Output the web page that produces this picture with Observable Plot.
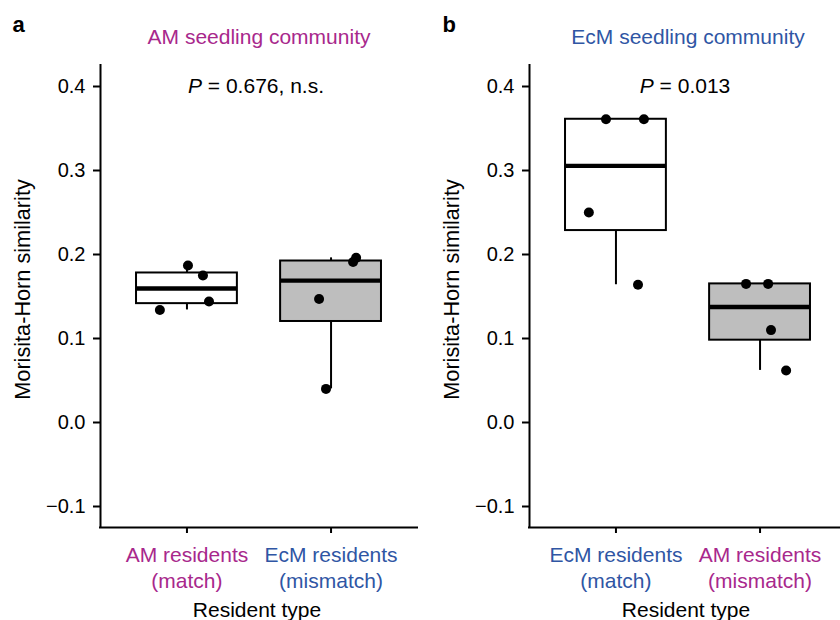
<!DOCTYPE html>
<html><head><meta charset="utf-8">
<script src="https://cdn.jsdelivr.net/npm/d3@7"></script>
<script src="https://cdn.jsdelivr.net/npm/@observablehq/plot@0.6"></script>
<style>
html,body{margin:0;padding:0;background:#fff;overflow:hidden;}
#wrap{position:relative;width:840px;height:620px;overflow:hidden;background:#fff;}
#pa{position:absolute;left:0;top:0;width:420px;}
#pb{position:absolute;left:420px;top:0;width:429px;}
#wrap svg{max-width:none !important;}
</style></head><body>
<div id="wrap"><div id="pa"></div><div id="pb"></div></div>
<script>
const FONT = "'Liberation Sans', Arial, Helvetica, sans-serif";
const AM_COLOR = "#a8288c";
const ECM_COLOR = "#2f56a4";
const BOX_FILLS = ["white", "#bebebe"];

const panelLetters = ["a", "b"];
const panelTitles = ["AM seedling community", "EcM seedling community"];
const pValueLabels = ["= 0.676, n.s.", "= 0.013"];
const categoriesA = ["AM residents\n(match)", "EcM residents\n(mismatch)"];
const categoriesB = ["EcM residents\n(match)", "AM residents\n(mismatch)"];
const xTitle = "Resident type";
const yTitle = "Morisita-Horn similarity";
const yTicks = [-0.1, 0.0, 0.1, 0.2, 0.3, 0.4];

// Panel a values
const amMatch    = [0.187, 0.175, 0.144, 0.134];
const amMismatch = [0.196, 0.191, 0.147, 0.040];
// Panel b values
const ecmMatch    = [0.361, 0.361, 0.250, 0.164];
const ecmMismatch = [0.165, 0.165, 0.110, 0.062];

// horizontal jitter of points (category units)
const jitterAmMatch     = [0.007, 0.111, 0.153, -0.188];
const jitterAmMismatch  = [0.174, 0.153, -0.083, -0.035];
const jitterEcmMatch    = [-0.069, 0.194, -0.188, 0.153];
const jitterEcmMismatch = [-0.097, 0.056, 0.076, 0.181];

function boxStats(vals, pos, fill) {
  const s = vals.slice().sort(d3.ascending);
  const q1 = d3.quantile(s, 0.25), med = d3.quantile(s, 0.5), q3 = d3.quantile(s, 0.75);
  const iqr = q3 - q1;
  const lo = d3.min(s.filter(v => v >= q1 - 1.5 * iqr));
  const hi = d3.max(s.filter(v => v <= q3 + 1.5 * iqr));
  return {pos, q1, med, q3, lo, hi, fill};
}

function panel({letter, title, titleColor, pLabel, cats, catColors, groups, jitters, marginLeft, width, letterShift}) {
  const stats = groups.map((g, i) => boxStats(g, i + 1, BOX_FILLS[i]));
  const points = groups.flatMap((g, i) => g.map((v, j) => ({pos: i + 1 + jitters[i][j], value: v})));
  const catData = cats.map((c, i) => ({pos: i + 1, label: c, color: catColors[i]}));
  const hw = 0.35;
  const plot = Plot.plot({
    width, height: 620,
    marginLeft, marginRight: 3, marginTop: 65, marginBottom: 93,
    x: {type: "linear", domain: [0.4, 2.6], axis: null},
    y: {type: "linear", domain: [-0.125, 0.425], axis: null},
    color: {type: "identity"},
    style: {fontFamily: FONT, fontSize: "21px", color: "black", background: "white", overflow: "visible", maxWidth: "none"},
    marks: [
      Plot.axisY({ticks: yTicks, tickSize: 7, tickPadding: 8, tickFormat: d3.format(".1f"), fontSize: 20, strokeWidth: 2, label: null}),
      Plot.axisX({ticks: [1, 2], tickSize: 6, tickFormat: () => "", strokeWidth: 2, label: null}),
      Plot.ruleX([0.4], {strokeWidth: 2, strokeLinecap: "square"}),
      Plot.ruleY([-0.125], {strokeWidth: 2, strokeLinecap: "square"}),
      Plot.ruleX(stats, {x: "pos", y1: "lo", y2: "q1", strokeWidth: 2}),
      Plot.ruleX(stats, {x: "pos", y1: "q3", y2: "hi", strokeWidth: 2}),
      Plot.rect(stats, {x1: d => d.pos - hw, x2: d => d.pos + hw, y1: "q1", y2: "q3", fill: "fill", stroke: "black", strokeWidth: 2}),
      Plot.ruleY(stats, {y: "med", x1: d => d.pos - hw, x2: d => d.pos + hw, strokeWidth: 4.3}),
      Plot.dot(points, {x: "pos", y: "value", r: 5, fill: "black", stroke: null}),
      Plot.text([{x: 1.5, y: 0.4, t: "P " + pLabel}], {x: "x", y: "y", text: "t", dx: -3, fontSize: 21, fill: "black"}),
      Plot.text(catData, {x: "pos", text: "label", fill: "color", frameAnchor: "bottom", lineAnchor: "top", dy: 16, lineHeight: 1.24, fontSize: 21}),
      Plot.text([{x: 1.5, t: xTitle}], {x: "x", text: "t", frameAnchor: "bottom", lineAnchor: "bottom", dy: 89, dx: -2, fontSize: 21, fill: "black"}),
      Plot.text([{t: yTitle}], {text: "t", frameAnchor: "left", textAnchor: "middle", rotate: -90, dx: -77, dy: -7, fontSize: 21.7, fill: "black"}),
      Plot.text([{x: 1.5, t: title}], {x: "x", text: "t", frameAnchor: "top", lineAnchor: "bottom", dy: -22, fontSize: 21, fill: titleColor}),
      Plot.text([{t: letter}], {text: "t", frameAnchor: "top-left", textAnchor: "start", lineAnchor: "bottom", dx: 12 - marginLeft + letterShift, dy: -34, fontSize: 22, fontWeight: "bold", fill: "black"})
    ]
  });
  const ns = "http://www.w3.org/2000/svg";
  plot.querySelectorAll("text").forEach(t => {
    const s = t.textContent;
    if (s.startsWith("P =")) {
      t.textContent = "";
      const a = document.createElementNS(ns, "tspan");
      a.setAttribute("font-style", "italic");
      a.textContent = "P";
      const b = document.createElementNS(ns, "tspan");
      b.textContent = s.slice(1);
      t.appendChild(a); t.appendChild(b);
    }
  });
  return plot;
}

document.getElementById("pa").appendChild(panel({
  letter: panelLetters[0], title: panelTitles[0], titleColor: AM_COLOR, pLabel: pValueLabels[0],
  cats: categoriesA, catColors: [AM_COLOR, ECM_COLOR],
  groups: [amMatch, amMismatch], jitters: [jitterAmMatch, jitterAmMismatch],
  marginLeft: 100, width: 420, letterShift: 0
}));
document.getElementById("pb").appendChild(panel({
  letter: panelLetters[1], title: panelTitles[1], titleColor: ECM_COLOR, pLabel: pValueLabels[1],
  cats: categoriesB, catColors: [ECM_COLOR, AM_COLOR],
  groups: [ecmMatch, ecmMismatch], jitters: [jitterEcmMatch, jitterEcmMismatch],
  marginLeft: 109, width: 429, letterShift: 10
}));
</script>
</body></html>
